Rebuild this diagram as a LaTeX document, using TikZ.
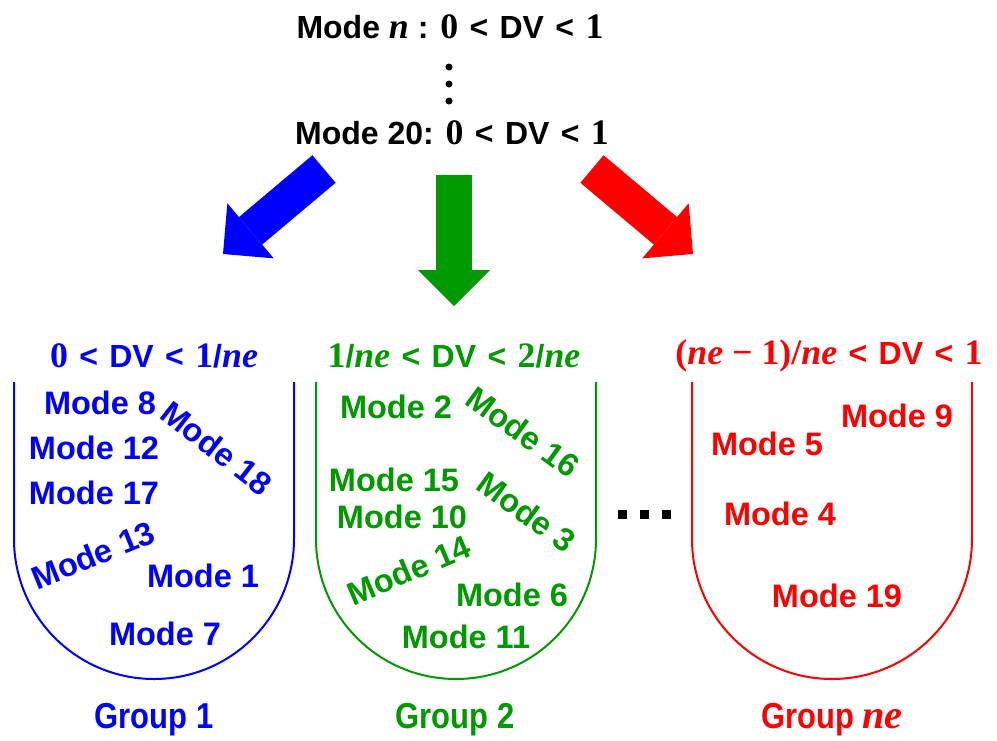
\documentclass[tikz,border=0pt]{standalone}
\usepackage{fontspec}
\setmainfont{Liberation Sans}
\newfontfamily\serfont[Scale=1.12]{Liberation Serif}
\newfontfamily\narrowfont[FakeStretch=0.86]{Liberation Sans}
\usetikzlibrary{arrows.meta}
\definecolor{dvblue}{HTML}{0000FF}
\definecolor{dvgreen}{HTML}{009900}
\definecolor{dvred}{HTML}{FF0000}
\newcommand{\nv}[1]{{\serfont\bfseries #1}}
\newcommand{\nvar}[1]{{\serfont\bfseries\itshape #1}}
\newcommand{\lessthan}{\hspace{2.5pt} < \hspace{2.5pt}}

\begin{document}
\begin{tikzpicture}[x=1pt, y=-1pt,
        modelbl/.style={inner sep=0pt, font=\fontsize{32.5}{36}\selectfont\bfseries},
        rangelbl/.style={inner sep=0pt, font=\fontsize{32}{36}\selectfont\bfseries},
        grouplbl/.style={inner sep=0pt, font=\fontsize{36}{40}\selectfont\narrowfont\bfseries},
        bucket/.style={line width=2pt},
        bigarrow/.style={line width=36pt, -{Triangle[length=36pt, width=72pt, line width=0pt]}}
    ]
      \useasboundingbox (0,0) rectangle (997,740);
      % Modes to split
      \node[rangelbl] (moden) at (450,27) {Mode \nvar{n} : \nv{0}\lessthan DV\lessthan\nv{1}};
      \node[rangelbl] (mode20) at (452,133) {Mode 20: \nv{0}\lessthan DV\lessthan\nv{1}};
      \foreach \y in {67,84,101}
        \fill (449,\y) circle (3.5);
      % Arrows to the groups
      \coordinate (bluetail) at (324,169);
      \coordinate (bluetip) at (223,254);
      \coordinate (greentail) at (454,175);
      \coordinate (greentip) at (454,306);
      \coordinate (redtail) at (592,169);
      \coordinate (redtip) at (693,254);
      \draw[bigarrow, dvblue] (bluetail) -- (bluetip);
      \draw[bigarrow, dvgreen] (greentail) -- (greentip);
      \draw[bigarrow, dvred] (redtail) -- (redtip);
      % Group 1
      \node[rangelbl, dvblue] (range1) at (154,356) {\nv{0}\lessthan DV\lessthan\nv{1}/\nvar{ne}};
      \draw[bucket, dvblue] (14,382) -- (14,539) arc[start angle=180, end angle=0, radius=140] -- (294,382);
      \node[modelbl, dvblue] (m8) at (100,403) {Mode 8};
      \node[modelbl, dvblue, rotate=-38] (m18) at (217,448) {Mode 18};
      \node[modelbl, dvblue] (m12) at (94,448) {Mode 12};
      \node[modelbl, dvblue] (m17) at (94,493) {Mode 17};
      \node[modelbl, dvblue, rotate=22] (m13) at (93,555) {Mode 13};
      \node[modelbl, dvblue] (m1) at (203,576) {Mode 1};
      \node[modelbl, dvblue] (m7) at (165,634) {Mode 7};
      \node[grouplbl, dvblue] (group1) at (154,720) {Group 1};
      % Group 2
      \node[rangelbl, dvgreen] (range2) at (454,356) {\nv{1}/\nvar{ne}\lessthan DV\lessthan\nv{2}/\nvar{ne}};
      \draw[bucket, dvgreen] (316,382) -- (316,539) arc[start angle=180, end angle=0, radius=140] -- (596,382);
      \node[modelbl, dvgreen] (m2) at (396,407) {Mode 2};
      \node[modelbl, dvgreen, rotate=-36] (m16) at (523,432) {Mode 16};
      \node[modelbl, dvgreen] (m15) at (394,480) {Mode 15};
      \node[modelbl, dvgreen] (m10) at (402,517) {Mode 10};
      \node[modelbl, dvgreen, rotate=-36] (m3) at (527,512) {Mode 3};
      \node[modelbl, dvgreen, rotate=23] (m14) at (409,570) {Mode 14};
      \node[modelbl, dvgreen] (m6) at (512,595) {Mode 6};
      \node[modelbl, dvgreen] (m11) at (466,637) {Mode 11};
      \node[grouplbl, dvgreen] (group2) at (455,720) {Group 2};
      % Skipped groups
      \foreach \x in {622,644,666}
        \fill (\x-4.5,509.5) rectangle ++(9,9);
      % Group ne
      \node[rangelbl, dvred] (rangene) at (829,356) {\nv{(}\nvar{ne}\nv{ − 1)/}\nvar{ne}\lessthan DV\lessthan\nv{1}};
      \draw[bucket, dvred] (692,382) -- (692,539) arc[start angle=180, end angle=0, radius=140] -- (972,382);
      \node[modelbl, dvred] (m9) at (897,416) {Mode 9};
      \node[modelbl, dvred] (m5) at (767,444) {Mode 5};
      \node[modelbl, dvred] (m4) at (780,514) {Mode 4};
      \node[modelbl, dvred] (m19) at (837,596) {Mode 19};
      \node[grouplbl, dvred] (groupne) at (832,720) {Group \nvar{ne}};
\end{tikzpicture}
\end{document}
